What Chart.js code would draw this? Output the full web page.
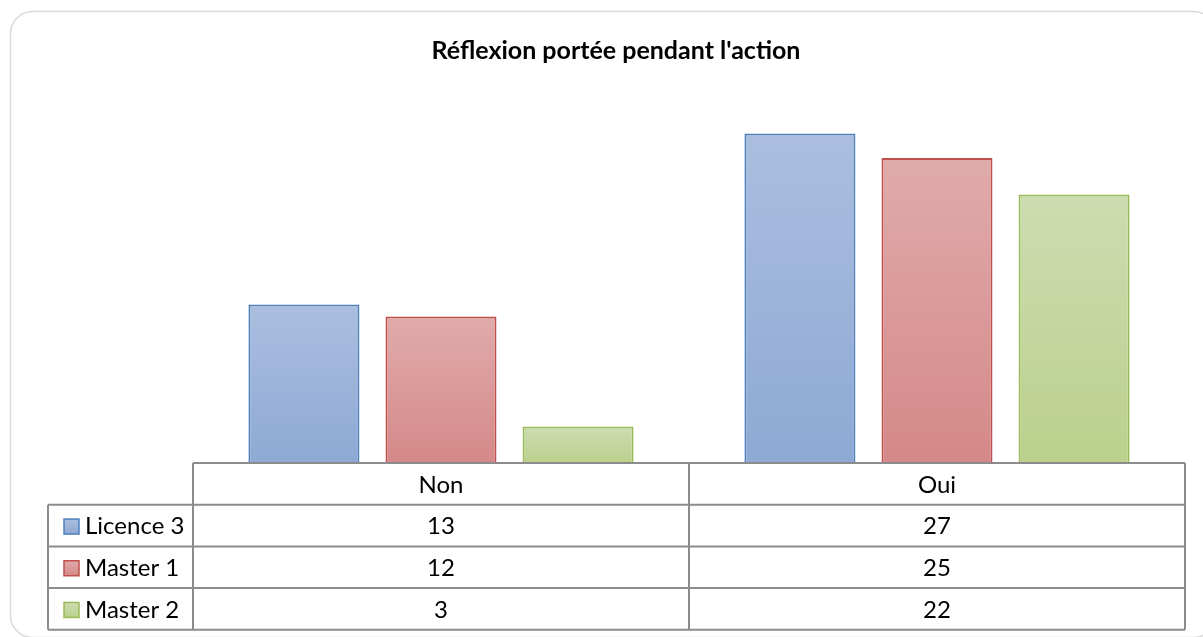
<!DOCTYPE html>
<html>
<head>
<meta charset="utf-8">
<script src="https://cdn.jsdelivr.net/npm/chart.js@4"></script>
<style>
  html, body { margin: 0; padding: 0; background: #fff; }
  #wrap { width: 1203px; height: 637px; position: relative; }
</style>
</head>
<body>
<div id="wrap"><canvas id="chart" width="1203" height="637"></canvas></div>
<script>
// data
const chartTitle = "Réflexion portée pendant l'action";
const categories = ["Non", "Oui"];
const seriesNames = ["Licence 3", "Master 1", "Master 2"];
const licence3 = [13, 27];
const master1 = [12, 25];
const master2 = [3, 22];

// colours (excel 2007 style)
const borders = ["#4f81bd", "#c0504d", "#9bbb59"];
const topCols = ["#abbedf", "#e0abaa", "#cedcb1"];
const botCols = ["#8ea9d4", "#d48988", "#bbd08c"];

const FONT = "Lato, 'Noto Sans', sans-serif";
const rowH = 41.7;
const legendLeft = 48;

function barGradient(i) {
    return function (ctx) {
        const chart = ctx.chart;
        if (!chart.chartArea || ctx.type !== "data") return topCols[i];
        const y = chart.scales.y;
        const top = y.getPixelForValue(ctx.raw);
        const bot = y.getPixelForValue(0);
        const g = chart.ctx.createLinearGradient(0, top, 0, bot);
        g.addColorStop(0, topCols[i]);
        g.addColorStop(1, botCols[i]);
        return g;
    };
}

// draws the frame, the title and the data table under the bars
const tablePlugin = {
    id: "dataTable",
    beforeDraw(chart) {
        const c = chart.ctx;
        c.save();
        c.strokeStyle = "#d9d9d9";
        c.lineWidth = 1.5;
        c.beginPath();
        c.roundRect(10.5, 11.5, 1205, 626, 22);
        c.stroke();

        c.fillStyle = "#000";
        c.font = "bold 25px " + FONT;
        c.textAlign = "center";
        c.textBaseline = "middle";
        c.fillText(chartTitle, 616, 51);
        c.restore();
    },
    afterDraw(chart) {
        const c = chart.ctx;
        const xs = chart.scales.x;
        const area = chart.chartArea;
        const rows = [licence3, master1, master2];
        const left = area.left, right = area.right, top = area.bottom;
        const bottom = top + rowH * 4;
        c.save();
        c.strokeStyle = "#8c8c8c";
        c.lineWidth = 2;
        c.beginPath();
        // header row
        c.moveTo(left, top); c.lineTo(right, top);
        for (let r = 1; r <= 4; r++) {
            c.moveTo(legendLeft, top + rowH * r);
            c.lineTo(right, top + rowH * r);
        }
        c.moveTo(legendLeft, top + rowH); c.lineTo(legendLeft, bottom);
        c.moveTo(left, top); c.lineTo(left, bottom);
        c.moveTo(right, top); c.lineTo(right, bottom);
        for (let k = 1; k < categories.length; k++) {
            const xb = (xs.getPixelForValue(k - 1) + xs.getPixelForValue(k)) / 2;
            c.moveTo(xb, top); c.lineTo(xb, bottom);
        }
        c.stroke();

        c.fillStyle = "#000";
        c.font = "24px " + FONT;
        c.textBaseline = "middle";
        c.textAlign = "center";
        categories.forEach((cat, k) => {
            c.fillText(cat, xs.getPixelForValue(k), top + rowH / 2 + 1);
        });
        rows.forEach((vals, r) => {
            const yc = top + rowH * (r + 1.5) + 1;
            vals.forEach((v, k) => {
                c.textAlign = "center";
                c.fillText(String(v), xs.getPixelForValue(k), yc);
            });
            // legend key
            const kx = 64, ks = 15;
            const ky = yc - ks / 2;
            const g = c.createLinearGradient(0, ky, 0, ky + ks);
            g.addColorStop(0, topCols[r]);
            g.addColorStop(1, botCols[r]);
            c.fillStyle = g;
            c.fillRect(kx, ky, ks, ks);
            c.strokeStyle = borders[r];
            c.lineWidth = 1.5;
            c.strokeRect(kx, ky, ks, ks);
            c.fillStyle = "#000";
            c.textAlign = "left";
            c.fillText(seriesNames[r], 85, yc);
        });
        c.restore();
    }
};

new Chart(document.getElementById("chart"), {
    type: "bar",
    data: {
        labels: categories,
        datasets: [licence3, master1, master2].map((vals, i) => ({
            label: seriesNames[i],
            data: vals,
            backgroundColor: barGradient(i),
            borderColor: borders[i],
            borderWidth: 2,
            borderSkipped: "bottom",
            categoryPercentage: 0.829,
            barPercentage: 0.81
        }))
    },
    options: {
        responsive: false,
        animation: false,
        events: [],
        layout: { padding: { left: 193, right: 18, top: 97, bottom: 174 } },
        plugins: { legend: { display: false }, title: { display: false }, tooltip: { enabled: false } },
        scales: {
            x: { display: false },
            y: { display: false, min: 0, max: 30 }
        }
    },
    plugins: [tablePlugin]
});
</script>
</body>
</html>
